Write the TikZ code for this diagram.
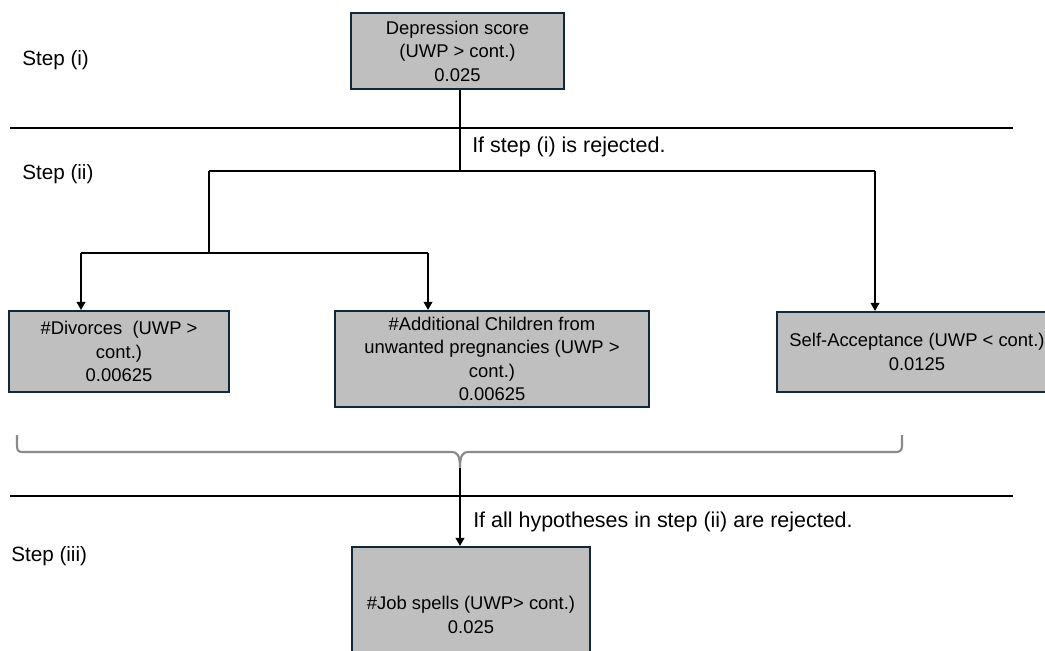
\documentclass[tikz,border=0pt]{standalone}
\usepackage{fontspec}
\setmainfont{Liberation Sans}
\usetikzlibrary{arrows.meta}
\definecolor{boxfill}{HTML}{BFBFBF}
\definecolor{boxline}{HTML}{10283A}
\definecolor{bracegray}{HTML}{8A8A8A}
\begin{document}
\begin{tikzpicture}[x=0.75pt,y=-0.75pt,
 box/.style={draw=boxline,fill=boxfill,line width=1.6pt,inner sep=0pt,align=center,font=\fontsize{13.8}{17.6}\selectfont},
 lbl/.style={anchor=west,inner sep=0pt,font=\fontsize{15.5}{18}\selectfont},
 note/.style={anchor=west,inner sep=0pt,font=\fontsize{16.1}{19}\selectfont},
 conn/.style={line width=1.1pt},
 arr/.style={conn,-{Triangle[length=6pt,width=6.5pt]}},
 sep/.style={line width=1.5pt},
 bracestyle/.style={draw=bracegray,line width=1.6pt}]
\useasboundingbox (0,0) rectangle (1045,650);
\clip (0,0) rectangle (1045,650);

% separators
\coordinate (s1l) at (10,128);
\coordinate (s1r) at (1013,128);
\coordinate (s2l) at (10,496);
\coordinate (s2r) at (1013,496);
\draw[sep] (s1l) -- (s1r);
\draw[sep] (s2l) -- (s2r);

% step labels
\node[lbl] (st1) at (22,60) {Step (i)};
\node[lbl] (st2) at (22,174) {Step (ii)};
\node[lbl] (st3) at (11,556) {Step (iii)};

% boxes
\node[box,minimum width=0.75*213pt,minimum height=0.75*76pt] (dep) at (457.5,51) {Depression score\\(UWP > cont.)\\0.025};
\node[box,minimum width=0.75*220pt,minimum height=0.75*81pt] (div) at (119,351.5) {\#Divorces~ (UWP >\\cont.)\\0.00625};
\node[box,minimum width=0.75*314pt,minimum height=0.75*96pt] (add) at (492,359) {\#Additional Children from\\unwanted pregnancies (UWP >\\cont.)\\0.00625};
\node[box,minimum width=0.75*280pt,minimum height=0.75*80pt] (self) at (917,352) {Self-Acceptance (UWP < cont.)\\0.0125};
\node[box,minimum width=0.75*238pt,minimum height=0.75*136pt] (job) at (471,615) {\#Job spells (UWP> cont.)\\0.025};

% connectors
\coordinate (b0) at (460,171);
\coordinate (bl) at (209,171);
\coordinate (br) at (875,171);
\coordinate (cl) at (209,253);
\coordinate (cll) at (81,253);
\coordinate (clr) at (428,253);
\draw[conn] (dep.south -| b0) -- (b0);
\draw[conn] (bl) -- (br);
\draw[conn] (bl) -- (cl);
\draw[conn] (cll) -- (clr);
\draw[arr] (cll) -- (div.north -| cll);
\draw[arr] (clr) -- (add.north -| clr);
\draw[arr] (br) -- (self.north -| br);

\node[note] (t1) at (472,147) {If step (i) is rejected.};

% brace
\coordinate (tip) at (460,468);
\draw[bracestyle] (17,435) -- (17,446) .. controls (17,451) and (19,452) .. (23,452) -- (452,452) .. controls (457,452) and (460,455) .. (tip) .. controls (460,455) and (463,452) .. (468,452) -- (896,452) .. controls (900,452) and (902,450) .. (902,446) -- (902,435);

\draw[arr] (tip) -- (job.north -| tip);
\node[note] (t2) at (473,522) {If all hypotheses in step (ii) are rejected.};
\end{tikzpicture}
\end{document}
